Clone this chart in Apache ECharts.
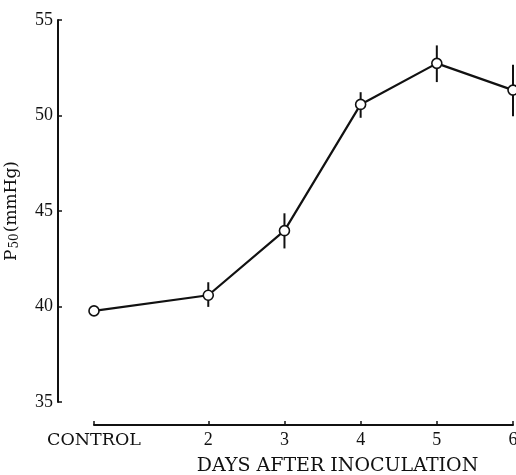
<!DOCTYPE html>
<html><head><meta charset="utf-8">
<script src="https://cdn.jsdelivr.net/npm/echarts@6/dist/echarts.min.js"></script>
<style>html,body{margin:0;padding:0;background:#fff}#c{width:516px;height:475px}</style>
</head><body><div id="c"></div>
<script>
// Data
const xPositions = [0.5, 2, 3, 4, 5, 6];
const xTickLabels = ['CONTROL', '2', '3', '4', '5', '6'];
const p50Mean = [39.77, 40.59, 43.97, 50.58, 52.73, 51.33];
const errLow  = [null, 39.98, 43.04, 49.88, 51.75, 49.96];
const errHigh = [null, 41.27, 44.88, 51.22, 53.67, 52.66];
const yTicks = [35, 40, 45, 50, 55];

const INK = '#111';
const lineData = xPositions.map((x, i) => [x, p50Mean[i]]);
const errData = xPositions.map((x, i) => [x, errLow[i], errHigh[i]]).filter(d => d[1] != null);

const chart = echarts.init(document.getElementById('c'), null, {renderer: 'canvas'});
chart.setOption({
  animation: false,
  backgroundColor: '#fff',
  grid: {left: 94, right: 3, top: 20, bottom: 73, containLabel: false, outerBoundsMode: 'none'},
  xAxis: {
    type: 'value', min: 0.5, max: 6, offset: 23,
    splitLine: {show: false},
    axisLine: {show: true, lineStyle: {color: INK, width: 2}},
    axisTick: {show: true, inside: true, length: 4, customValues: xPositions, lineStyle: {color: INK, width: 1.5}},
    axisLabel: {
      customValues: xPositions, margin: 6, color: INK,
      fontFamily: 'Liberation Serif', fontSize: 18,
      formatter: v => { const i = xPositions.indexOf(v); const t = i >= 0 ? xTickLabels[i] : ''; return t === 'CONTROL' ? '{c|' + t + '}' : t; },
      rich: {c: {fontFamily: 'DejaVu Serif', fontSize: 17.5, color: INK}}
    },
    name: 'DAYS AFTER INOCULATION', nameLocation: 'middle', nameGap: 32,
    nameTextStyle: {fontFamily: 'DejaVu Serif', fontSize: 19, color: INK, padding: [0, 0, 0, 68]}
  },
  yAxis: {
    type: 'value', min: 35, max: 55, interval: 5, offset: 36,
    splitLine: {show: false},
    axisLine: {show: true, lineStyle: {color: INK, width: 2}},
    axisTick: {show: true, inside: true, length: 4, lineStyle: {color: INK, width: 1.5}},
    axisLabel: {margin: 5, color: INK, fontFamily: 'Liberation Serif', fontSize: 18,
      formatter: v => yTicks.includes(v) ? String(v) : ''},
    name: '{a|P}{b|50}{a|(mmHg)}', nameLocation: 'middle', nameGap: 37,
    nameTextStyle: {
      rich: {
        a: {fontFamily: 'DejaVu Serif', fontSize: 17, color: INK},
        b: {fontFamily: 'DejaVu Serif', fontSize: 12, color: INK, verticalAlign: 'bottom', padding: [6, 1, 0, 1]}
      }
    }
  },
  series: [
    {
      type: 'custom', z: 2,
      renderItem: (params, api) => {
        const p1 = api.coord([api.value(0), api.value(1)]);
        const p2 = api.coord([api.value(0), api.value(2)]);
        return {type: 'line', shape: {x1: p1[0], y1: p1[1], x2: p2[0], y2: p2[1]},
          style: {stroke: INK, lineWidth: 2}};
      },
      data: errData, clip: false
    },
    {
      type: 'line', z: 3, data: lineData,
      lineStyle: {color: INK, width: 2.2},
      symbol: 'circle', symbolSize: 10,
      itemStyle: {color: '#fff', borderColor: INK, borderWidth: 1.6},
      clip: false
    }
  ]
});
</script></body></html>
